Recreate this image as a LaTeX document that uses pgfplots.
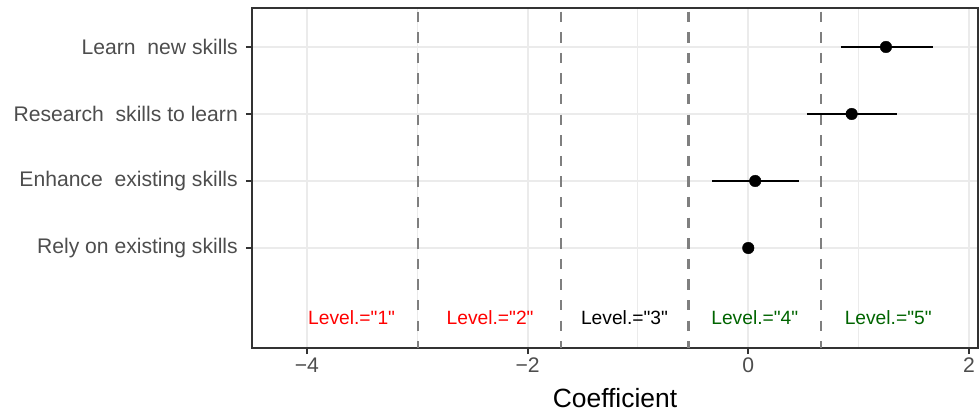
\documentclass[border=0pt]{standalone}
\usepackage{pgfplots}
\pgfplotsset{compat=1.18}
\usepackage{fontspec}
\setmainfont{Liberation Sans}[Ligatures=TeXOff]
\definecolor{gridc}{HTML}{EBEBEB}
\definecolor{axc}{HTML}{333333}
\definecolor{labc}{HTML}{4D4D4D}
\definecolor{dashc}{HTML}{7F7F7F}
\definecolor{dgreen}{HTML}{006400}
\begin{document}
\begin{tikzpicture}
\begin{axis}[name=ax, scale only axis, width=726bp, height=340bp,
  xmin=-4.498, xmax=2.082, ymin=-0.4925, ymax=4.582,
  xtick={-4,-2,0,2}, xticklabels={−4,−2,0,2},
  minor xtick={-3,-1,1},
  ytick={1,2,3,4},
  yticklabels={Rely on existing skills,Enhance\ \ existing skills,Research\ \ skills to learn,Learn\ \ new skills},
  tick pos=left, tick align=outside,
  major tick length=6bp, minor tick length=0pt,
  xmajorgrids, xminorgrids, ymajorgrids,
  major grid style={gridc, line width=2bp},
  minor grid style={gridc, line width=1bp},
  tick style={axc, line width=2bp},
  axis line style={axc, line width=2bp},
  ticklabel style={text=labc, font=\fontsize{21.2}{25}\selectfont},
  yticklabel style={inner sep=0pt, xshift=-8bp},
  xticklabel style={inner sep=0pt, yshift=-4bp},
  xlabel={Coefficient},
  xlabel style={font=\fontsize{26.5}{30}\selectfont, text=black, at={(axis description cs:0.5,0)}, anchor=center, yshift=-50bp},
  unbounded coords=jump,
  cut/.style={dashc, line width=2.6bp, dash pattern=on 10.3bp off 10.3bp, dash phase=16.9bp},
]
% dashed cut points
\addplot[cut] coordinates {(-2.994,4.582) (-2.994,-0.4925)};
\addplot[cut] coordinates {(-1.698,4.582) (-1.698,-0.4925)};
\addplot[cut] coordinates {(-0.541,4.582) (-0.541,-0.4925)};
\addplot[cut] coordinates {(0.659,4.582) (0.659,-0.4925)};
% confidence intervals
\addplot[black, line width=2.8bp] coordinates {(0.840,4) (1.671,4) (nan,nan) (0.532,3) (1.345,3) (nan,nan) (-0.326,2) (0.460,2)};
% estimates
\addplot[only marks, mark=*, mark size=5.8bp, mark options={draw=none, fill=black}] coordinates {(1.248,4) (0.937,3) (0.063,2) (0,1)};
% level labels
\node[text=red, font=\fontsize{19.3}{22}\selectfont] at (axis cs:-3.595,-0.04) {Level.="1"};
\node[text=red, font=\fontsize{19.3}{22}\selectfont] at (axis cs:-2.340,-0.04) {Level.="2"};
\node[text=black, font=\fontsize{19.3}{22}\selectfont] at (axis cs:-1.122,-0.04) {Level.="3"};
\node[text=dgreen, font=\fontsize{19.3}{22}\selectfont] at (axis cs:0.059,-0.04) {Level.="4"};
\node[text=dgreen, font=\fontsize{19.3}{22}\selectfont] at (axis cs:1.268,-0.04) {Level.="5"};
\end{axis}
\pgfresetboundingbox
\path ([shift={(-252bp,-64bp)}]ax.south west) rectangle ([shift={(1bp,8bp)}]ax.north east);
\end{tikzpicture}
\end{document}
